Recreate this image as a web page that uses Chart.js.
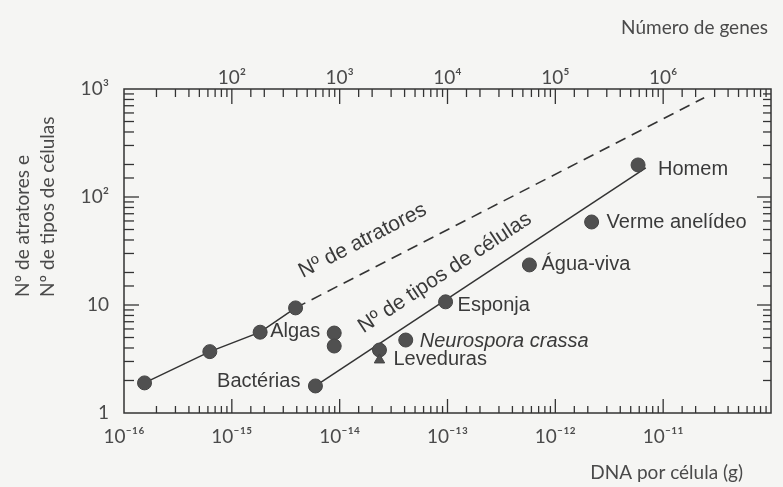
<!DOCTYPE html>
<html>
<head>
<meta charset="utf-8">
<script src="https://cdn.jsdelivr.net/npm/chart.js@4.4.0/dist/chart.umd.min.js"></script>
<style>
html, body { margin:0; padding:0; background:#f5f5f3; }
#wrap { position:relative; width:783px; height:487px; }
</style>
</head>
<body>
<div id="wrap"><canvas id="c" width="783" height="487"></canvas></div>
<script>
// DNA por célula (g) x Nº de atratores
const dnaAtratores = [1.55e-16, 6.25e-16, 1.83e-15, 3.9e-15]
const atratores = [1.9, 3.7, 5.6, 9.4]
// extrapolação (tracejada)
const dnaAtratoresExt = [3.9e-15, 2.4e-11]
const atratoresExt = [9.4, 830]

// DNA por célula (g) x Nº de tipos de células
const organismos = ['Bactérias', 'Algas', 'Algas', 'Leveduras', 'Leveduras', 'Neurospora crassa', 'Esponja', 'Água-viva', 'Verme anelídeo', 'Homem']
const dnaTipos = [5.96e-15, 8.9e-15, 8.9e-15, 2.34e-14, 2.34e-14, 4.1e-14, 9.6e-14, 5.75e-13, 2.17e-12, 5.85e-12]
const tipos = [1.78, 5.5, 4.17, 3.83, 3.1, 4.74, 10.7, 23.5, 58.7, 198]
// reta ajustada
const dnaTiposReta = [5.96e-15, 6.9e-12]
const tiposReta = [1.78, 186]

// eixos
const xMin = 1e-16, xMax = 1e-10
const genesMin = 1e1, genesMax = 1e7
const yMin = 1, yMax = 1e3

const sup = s => String(s).split('').map(c => ({'-':'⁻','0':'⁰','1':'¹','2':'²','3':'³','4':'⁴','5':'⁵','6':'⁶','7':'⁷','8':'⁸','9':'⁹'})[c]).join('')
const expo = v => Math.round(Math.log10(v))
const maior = v => Math.abs(Math.log10(v) - expo(v)) < 1e-6

const fonteEixo = 'Lato, "DejaVu Sans", sans-serif'
const fonteTexto = '"Liberation Sans", Arial, sans-serif'
const corEixo = '#4a4a4a'
const corTexto = '#3a3a3a'
const corLinha = '#333'
const corPonto = '#505050'

// rótulos: série, índice do ponto, deslocamento em px
const rotulos = [
	{s:0, i:2, t:'Algas', dx:10, dy:-1, al:'left'},
	{s:3, i:0, t:'Bactérias', dx:-15, dy:-4, al:'right'},
	{s:3, i:4, t:'Leveduras', dx:14, dy:0, al:'left'},
	{s:3, i:5, t:'Neurospora crassa', dx:14, dy:1, al:'left', it:true},
	{s:3, i:6, t:'Esponja', dx:12, dy:4, al:'left'},
	{s:3, i:7, t:'Água-viva', dx:12, dy:0, al:'left'},
	{s:3, i:8, t:'Verme anelídeo', dx:15, dy:0, al:'left'},
	{s:3, i:9, t:'Homem', dx:20, dy:5, al:'left'},
]
// rótulos inclinados sobre as retas: série, x (DNA) do ponto de apoio, distância px
const rotulosReta = [
	{s:1, x:2.17e-14, t:'Nº de atratores', d:29},
	{s:2, x:1.24e-13, t:'Nº de tipos de células', d:23},
]

const pts = (xs, ys) => xs.map((a, b) => ({x:a, y:ys[b]}))

const textos = {
	id:'textos',
	afterDraw(ch) {
		const {ctx, chartArea:a, scales:{x, x2, y}} = ch
		ctx.save()
		// moldura
		ctx.strokeStyle = corLinha
		ctx.lineWidth = 1.5
		ctx.strokeRect(a.left, a.top, a.right - a.left, a.bottom - a.top)
		// marcas internas
		ctx.lineWidth = 1.3
		const risco = (x1, y1, x3, y3) => { ctx.beginPath(); ctx.moveTo(x1, y1); ctx.lineTo(x3, y3); ctx.stroke() }
		x.ticks.forEach(t => { const p = x.getPixelForValue(t.value); if (p > a.left + 1 && p < a.right - 1) risco(p, a.bottom, p, a.bottom - (maior(t.value) ? 14 : 7)) })
		x2.ticks.forEach(t => { const p = x2.getPixelForValue(t.value); if (p > a.left + 1 && p < a.right - 1) risco(p, a.top, p, a.top + (maior(t.value) ? 15 : 8)) })
		y.ticks.forEach(t => {
			const p = y.getPixelForValue(t.value)
			if (p < a.bottom - 1 && p > a.top + 1) {
				risco(a.left, p, a.left + (maior(t.value) ? 15 : 10), p)
				risco(a.right, p, a.right - (maior(t.value) ? 14 : 8), p)
			}
		})

		// títulos dos eixos
		ctx.fillStyle = corEixo
		ctx.font = '19px ' + fonteEixo
		ctx.textBaseline = 'middle'
		ctx.textAlign = 'right'
		ctx.fillText('Número de genes', 768, 28)
		ctx.fillText('DNA por célula (g)', 743, 473)
		ctx.save()
		ctx.translate(23, 297)
		ctx.rotate(-Math.PI / 2)
		ctx.textAlign = 'left'
		ctx.fillText('Nº de atratores e', 0, 0)
		ctx.fillText('Nº de tipos de células', 0, 25)
		ctx.restore()

		// rótulos dos pontos
		ctx.fillStyle = corTexto
		rotulos.forEach(r => {
			const el = ch.getDatasetMeta(r.s).data[r.i]
			ctx.font = (r.it ? 'italic ' : '') + '20px ' + fonteTexto
			ctx.textAlign = r.al
			ctx.fillText(r.t, el.x + r.dx, el.y + r.dy)
		})
		// rótulos inclinados
		ctx.font = '21px ' + fonteTexto
		ctx.textAlign = 'center'
		rotulosReta.forEach(r => {
			const d = ch.data.datasets[r.s].data
			const p1 = {x:x.getPixelForValue(d[0].x), y:y.getPixelForValue(d[0].y)}
			const p2 = {x:x.getPixelForValue(d[1].x), y:y.getPixelForValue(d[1].y)}
			const px = x.getPixelForValue(r.x)
			const py = p1.y + (px - p1.x) * (p2.y - p1.y) / (p2.x - p1.x)
			const ang = Math.atan2(p2.y - p1.y, p2.x - p1.x)
			ctx.save()
			ctx.translate(px, py)
			ctx.rotate(ang)
			ctx.fillText(r.t, 0, -r.d)
			ctx.restore()
		})
		ctx.restore()
	}
}

// tamanho fixo de cada eixo -> área do gráfico 124..780 x 89..413
const eixoLog = (min, max, pos, fmt, pad, fit) => ({
	type:'logarithmic', position:pos, min:min, max:max,
	grid:{display:false, drawTicks:false},
	border:{display:false},
	ticks:{autoSkip:false, maxRotation:0, padding:pad, color:corEixo, font:{family:fonteEixo, size:19}, callback:v => maior(v) ? fmt(expo(v)) : ''},
	afterFit:fit,
})

new Chart(document.getElementById('c'), {
	type:'scatter',
	data:{
		datasets:[
			{data:pts(dnaAtratores, atratores), showLine:true, borderColor:corLinha, borderWidth:1.5, pointRadius:7, pointBackgroundColor:corPonto, pointBorderColor:'#444', pointBorderWidth:1, order:1},
			{data:pts(dnaAtratoresExt, atratoresExt), showLine:true, borderColor:corLinha, borderWidth:1.6, borderDash:[11, 7], pointRadius:0, order:3},
			{data:pts(dnaTiposReta, tiposReta), showLine:true, borderColor:corLinha, borderWidth:1.5, pointRadius:0, order:3},
			{data:pts(dnaTipos, tipos), showLine:false, pointRadius:organismos.map((a, b) => b == 4 ? 6 : 7), pointStyle:organismos.map((a, b) => b == 4 ? 'triangle' : 'circle'), pointBackgroundColor:corPonto, pointBorderColor:'#444', pointBorderWidth:1, order:0},
		]
	},
	options:{
		responsive:false,
		animation:false,
		layout:{padding:{left:0, right:3, top:0, bottom:0}},
		plugins:{legend:{display:false}, tooltip:{enabled:false}},
		scales:{
			x:eixoLog(xMin, xMax, 'bottom', e => e <= -11 ? '10' + sup(e) : '', 12, s => { s.height = 74 }),
			x2:eixoLog(genesMin, genesMax, 'top', e => e >= 2 && e <= 6 ? '10' + sup(e) : '', 0, s => { s.height = 89 }),
			y:eixoLog(yMin, yMax, 'left', e => e == 0 ? '1' : e == 1 ? '10' : '10' + sup(e), 15, s => { s.width = 124 }),
		}
	},
	plugins:[textos]
})
</script>
</body>
</html>
